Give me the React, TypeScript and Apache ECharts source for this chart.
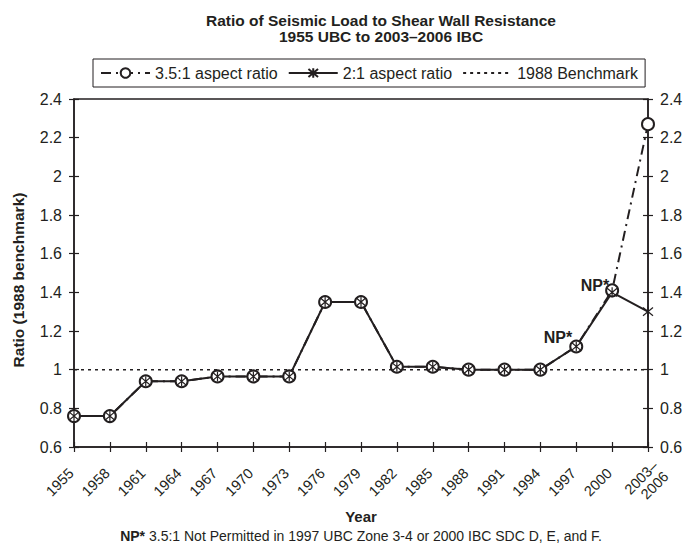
import React, { useEffect, useRef } from "react";
import * as echarts from "echarts";

const years = ["1955","1958","1961","1964","1967","1970","1973","1976","1979","1982","1985","1988","1991","1994","1997","2000","2003–\n2006"];
const ratio35 = [0.76,0.76,0.94,0.94,0.965,0.965,0.965,1.35,1.35,1.015,1.015,1.0,1.0,1.0,1.12,1.41,2.27];
const ratio21 = [0.76,0.76,0.94,0.94,0.965,0.965,0.965,1.35,1.35,1.015,1.015,1.0,1.0,1.0,1.12,1.40,1.30];
const benchmark = [1,1,1,1,1,1,1,1,1,1,1,1,1,1,1,1,1];
const npIndices = [14, 15];
const yMin = 0.6, yMax = 2.4, yStep = 0.2;

const INK = "#231f20";
const FONT = "'Liberation Sans', Arial, Helvetica, sans-serif";
const ASTERISK = "path://M0,0L10,10M10,0L0,10M5,-1L5,11";

export default function App() {
  const ref = useRef<HTMLDivElement>(null);
  useEffect(() => {
    if (!ref.current) return;
    const chart = echarts.init(ref.current, undefined, { renderer: "svg" });
    const lastIdx = years.length - 1;
    const npOffsets: Record<number, number[]> = { 14: [3, -9], 15: [4, -5] };
    const d35 = ratio35.map((v, i) =>
      npIndices.includes(i)
        ? {
            value: v,
            label: {
              show: true,
              formatter: "NP*",
              position: "left",
              distance: 0,
              offset: npOffsets[i],
              fontWeight: "bold",
              fontSize: 16,
              color: INK,
              fontFamily: FONT,
            },
          }
        : v
    );
    const yBase = {
      type: "value",
      min: yMin,
      max: yMax,
      interval: yStep,
      splitLine: { show: false },
    };
    const xBase = {
      type: "category",
      data: years,
      boundaryGap: false,
      position: "bottom",
    };
    const xLabelBase = { rotate: 45, fontSize: 14.5, color: INK, interval: 0, lineHeight: 15, fontFamily: FONT };
    chart.setOption({
      animation: false,
      textStyle: { fontFamily: FONT, color: INK },
      title: {
        text: "Ratio of Seismic Load to Shear Wall Resistance\n1955 UBC to 2003–2006 IBC",
        left: 376,
        textAlign: "center",
        top: 8,
        textStyle: { fontSize: 15.5, fontWeight: "bold", color: INK, lineHeight: 15.5, fontFamily: FONT },
      },
      legend: {
        top: 59,
        left: 93,
        data: ["3.5:1 aspect ratio", "2:1 aspect ratio", "1988 Benchmark"],
        borderColor: INK,
        borderWidth: 1,
        borderRadius: 0,
        padding: [6, 7, 6, 7],
        itemWidth: 49,
        itemHeight: 12,
        itemGap: 10,
        textStyle: { fontSize: 16, color: INK, fontFamily: FONT },
      },
      grid: {
        left: 74,
        right: 46,
        top: 99,
        height: 348,
        show: true,
        borderColor: INK,
        borderWidth: 1.5,
        backgroundColor: "transparent",
      },
      xAxis: [
        {
          ...xBase,
          name: "Year",
          nameLocation: "middle",
          nameGap: 62,
          nameMoveOverlap: false,
          nameTextStyle: { fontSize: 15, fontWeight: "bold", color: INK, fontFamily: FONT },
          axisLine: { lineStyle: { color: INK, width: 1.5 } },
          axisTick: { show: true, inside: false, length: 5, lineStyle: { color: INK, width: 1.2 } },
          axisLabel: {
            ...xLabelBase,
            margin: 21,
            padding: [0, 4, 0, 0],
            formatter: (v: string, i: number) => (i === lastIdx ? "" : v),
          },
        },
        {
          ...xBase,
          axisLine: { show: false },
          axisTick: { show: true, inside: true, length: 5, lineStyle: { color: INK, width: 1.2 } },
          axisLabel: {
            ...xLabelBase,
            margin: 9,
            verticalAlign: "top",
            padding: [3, 0, 0, 0],
            formatter: (v: string, i: number) => (i === lastIdx ? v : ""),
          },
        },
      ],
      yAxis: [
        {
          ...yBase,
          position: "left",
          name: "Ratio (1988 benchmark)",
          nameLocation: "middle",
          nameGap: 48,
          nameTextStyle: { fontSize: 15.5, fontWeight: "bold", color: INK, fontFamily: FONT, padding: [0, 14, 0, 0] },
          axisLine: { show: true, lineStyle: { color: INK, width: 1.5 } },
          axisTick: { show: true, inside: false, length: 5, lineStyle: { color: INK, width: 1.2 } },
          axisLabel: { fontSize: 16, color: INK, margin: 12, fontFamily: FONT },
        },
        {
          ...yBase,
          position: "left",
          axisLine: { show: false },
          axisTick: { show: true, inside: true, length: 5, lineStyle: { color: INK, width: 1.2 } },
          axisLabel: { show: false },
        },
        {
          ...yBase,
          position: "right",
          axisLine: { show: true, lineStyle: { color: INK, width: 1.5 } },
          axisTick: { show: true, inside: false, length: 5, lineStyle: { color: INK, width: 1.2 } },
          axisLabel: { fontSize: 16, color: INK, margin: 12, fontFamily: FONT },
        },
        {
          ...yBase,
          position: "right",
          axisLine: { show: false },
          axisTick: { show: true, inside: true, length: 5, lineStyle: { color: INK, width: 1.2 } },
          axisLabel: { show: false },
        },
      ],
      series: [
        {
          name: "1988 Benchmark",
          type: "line",
          data: benchmark,
          symbol: "circle",
          symbolSize: 1,
          lineStyle: { color: INK, width: 1.5, type: [3, 4] },
          itemStyle: { color: "rgba(0,0,0,0)" },
          silent: true,
        },
        {
          name: "3.5:1 aspect ratio",
          type: "line",
          data: d35,
          symbol: "emptyCircle",
          symbolSize: 12,
          showAllSymbol: true,
          lineStyle: { color: INK, width: 2, type: [10, 5, 2, 5] },
          itemStyle: { color: INK, borderColor: INK, borderWidth: 1.2 },
        },
        {
          name: "2:1 aspect ratio",
          type: "line",
          data: ratio21,
          symbol: ASTERISK,
          symbolSize: 10,
          showAllSymbol: true,
          lineStyle: { color: INK, width: 2 },
          itemStyle: { color: INK, borderColor: INK, borderWidth: 1.2 },
        },
      ],
      graphic: [
        {
          type: "text",
          x: 361,
          y: 536,
          style: {
            text: "{b|NP*} 3.5:1 Not Permitted in 1997 UBC Zone 3-4 or 2000 IBC SDC D, E, and F.",
            rich: { b: { fontWeight: "bold", fontSize: 14, fill: INK, fontFamily: FONT } },
            fontSize: 14,
            fill: INK,
            fontFamily: FONT,
            align: "center",
            verticalAlign: "middle",
          },
        },
      ],
    });
    return () => chart.dispose();
  }, []);
  return <div ref={ref} style={{ position: "absolute", left: 0, top: 0, width: 694, height: 548 }} />;
}
